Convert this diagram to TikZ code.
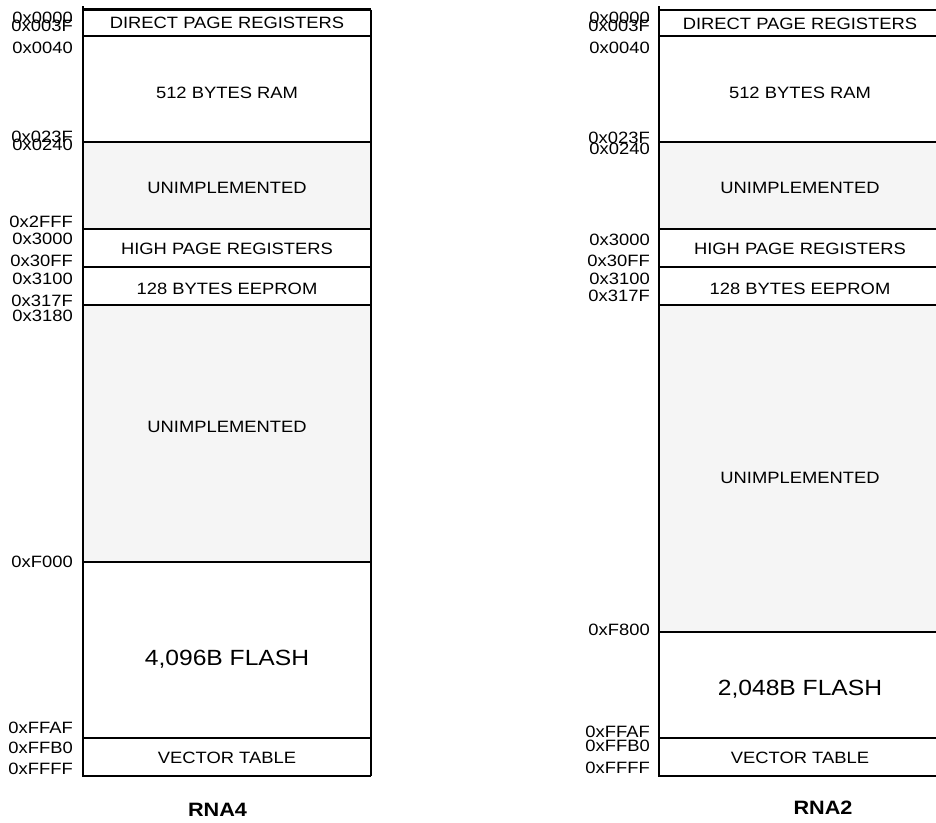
\documentclass[tikz,border=0pt]{standalone}
\usepackage{fontspec}
\setmainfont[FakeStretch=1.12]{Liberation Sans}
\definecolor{unimpgray}{HTML}{F5F5F5}
\begin{document}
\begin{tikzpicture}[x=0.75pt,y=-0.75pt,
  border/.style={line width=1.9pt},
  addr/.style={anchor=east,inner sep=0pt,text depth=0pt,font=\fontsize{12.3}{12.3}\selectfont},
  region/.style={inner sep=0pt,text depth=0pt,font=\fontsize{12.3}{12.3}\selectfont},
  bigregion/.style={inner sep=0pt,text depth=0pt,font=\fontsize{16.5}{16.5}\selectfont},
  maptitle/.style={inner sep=0pt,text depth=0pt,font=\fontsize{14.5}{14.5}\selectfont\bfseries}]
\useasboundingbox (0,0) rectangle (936,822);
\clip (0,0) rectangle (936,822);
\fill[white] (0,0) rectangle (936,822);

% ---------------- RNA4 (left) ----------------
\fill[unimpgray] (83,142) rectangle (371,229);
\fill[unimpgray] (83,305) rectangle (371,562);
\foreach \yy in {9.5,36,142,229,267,305,562,738,776}
  \draw[border] (83,\yy) -- (371,\yy);
\draw[border] (83,6) -- (83,777);
\draw[border] (371,9.5) -- (371,776);

\node[region] (l1) at (227,23) {DIRECT PAGE REGISTERS};
\node[region] (l2) at (227,93) {512 BYTES RAM};
\node[region] (l3) at (227,188) {UNIMPLEMENTED};
\node[region] (l4) at (227,249) {HIGH PAGE REGISTERS};
\node[region] (l5) at (227,289) {128 BYTES EEPROM};
\node[region] (l6) at (227,427) {UNIMPLEMENTED};
\node[bigregion] (l7) at (227,658) {4,096B FLASH};
\node[region] (l8) at (227,758) {VECTOR TABLE};

\node[addr] (la1) at (73,17.5) {0x0000};
\node[addr] (la2) at (73,26) {0x003F};
\node[addr] (la3) at (73,48) {0x0040};
\node[addr] (la4) at (73,136.5) {0x023F};
\node[addr] (la5) at (73,145) {0x0240};
\node[addr] (la6) at (73,221.5) {0x2FFF};
\node[addr] (la7) at (73,239) {0x3000};
\node[addr] (la8) at (73,261) {0x30FF};
\node[addr] (la9) at (73,278.5) {0x3100};
\node[addr] (la10) at (73,301) {0x317F};
\node[addr] (la11) at (73,316) {0x3180};
\node[addr] (la12) at (73,562) {0xF000};
\node[addr] (la13) at (73,727.5) {0xFFAF};
\node[addr] (la14) at (73,747.5) {0xFFB0};
\node[addr] (la15) at (73,769) {0xFFFF};

\node[maptitle] (t1) at (217.5,810) {RNA4};

% ---------------- RNA2 (right) ----------------
\fill[unimpgray] (659,142) rectangle (941,229);
\fill[unimpgray] (659,305) rectangle (941,632);
\foreach \yy in {10,36,142,229,267,305,632,738,776}
  \draw[border] (659,\yy) -- (941,\yy);
\draw[border] (659,6) -- (659,777);

\node[region] (r1) at (800,24) {DIRECT PAGE REGISTERS};
\node[region] (r2) at (800,93) {512 BYTES RAM};
\node[region] (r3) at (800,188) {UNIMPLEMENTED};
\node[region] (r4) at (800,249) {HIGH PAGE REGISTERS};
\node[region] (r5) at (800,289) {128 BYTES EEPROM};
\node[region] (r6) at (800,478) {UNIMPLEMENTED};
\node[bigregion] (r7) at (800,688) {2,048B FLASH};
\node[region] (r8) at (800,758) {VECTOR TABLE};

\node[addr] (ra1) at (650,17.5) {0x0000};
\node[addr] (ra2) at (650,26) {0x003F};
\node[addr] (ra3) at (650,48) {0x0040};
\node[addr] (ra4) at (650,137.5) {0x023F};
\node[addr] (ra5) at (650,148.5) {0x0240};
\node[addr] (ra7) at (650,240) {0x3000};
\node[addr] (ra8) at (650,261) {0x30FF};
\node[addr] (ra9) at (650,278.5) {0x3100};
\node[addr] (ra10) at (650,296) {0x317F};
\node[addr] (ra12) at (650,629.5) {0xF800};
\node[addr] (ra13) at (650,732) {0xFFAF};
\node[addr] (ra14) at (650,746) {0xFFB0};
\node[addr] (ra15) at (650,767.5) {0xFFFF};

\node[maptitle] (t2) at (823,808) {RNA2};
\end{tikzpicture}
\end{document}
